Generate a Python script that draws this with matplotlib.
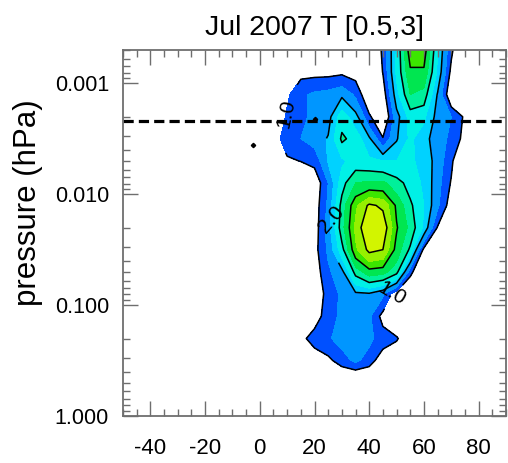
import numpy as np
import matplotlib
matplotlib.use('Agg')
import matplotlib.pyplot as plt
from matplotlib.ticker import MultipleLocator, FixedLocator, LogLocator, NullFormatter

plt.rcParams['font.family'] = ['Liberation Sans', 'DejaVu Sans']
plt.rcParams['axes.unicode_minus'] = False

# latitude grid (deg N) and pressure levels (hPa)
lats = [0, 5, 10, 15, 20, 25, 30, 35, 40, 45, 50, 55, 60, 65, 70, 75, 80]
pres = [0.0005, 0.00079, 0.00126, 0.002, 0.00316, 0.005, 0.0079, 0.0126,
        0.02, 0.0316, 0.05, 0.079, 0.126, 0.2, 0.316, 0.5, 0.79]

# temperature amplitude, one row per pressure level
amp = [
    [0, 0, 0.4, 0.5, 0.5, 0.5, 0.5, 0.4, 0, 1.15, 2.55, 4.3, 4.3, 2.5, 1.1, 0.3, 0],
    [0, 0.1, 0.6, 0.85, 0.85, 0.85, 0.9, 0.8, 0.3, 1.02, 2.6, 3.9, 3.9, 2.4, 0.85, 0.2, 0],
    [0, 0.3, 0.9, 1.4, 1.6, 1.7, 1.9, 1.4, 0.5, 0.7, 2.3, 3.5, 3.3, 1.95, 0.5, 0.3, 0],
    [0, 0.3, 1.1, 1.4, 1.6, 1.8, 2.8, 2.2, 1.1, 0.4, 1.8, 2.7, 2.6, 1.8, 1.5, 0.9, 0.1],
    [0, 0.7, 1.3, 1.5, 1.7, 2.05, 3.1, 2.8, 2.1, 1.05, 1.95, 2.6, 2.2, 1.7, 1.4, 0.8, 0],
    [0, 0.3, 0.9, 1.02, 1.15, 2.05, 2.4, 2.7, 2.6, 2.5, 2.5, 2.6, 2.3, 1.8, 1.1, 0.3, 0],
    [0, 0, 0.1, 0.2, 0.6, 1.5, 2.8, 3.5, 3.6, 3.6, 3.2, 2.8, 2.4, 1.7, 0.95, 0.1, 0],
    [0, 0, 0, 0.1, 0.7, 1.6, 3.2, 4.4, 5.1, 4.9, 3.9, 3.1, 2.5, 1.6, 0.7, 0, 0],
    [0, 0, 0, 0.1, 0.7, 1.75, 3.3, 4.6, 5.6, 5.4, 4.05, 3.35, 2.4, 0.95, 0.2, 0, 0],
    [0, 0, 0, 0.1, 0.8, 1.6, 2.8, 4.4, 5.15, 5.0, 3.8, 2.9, 0.85, 0, 0, 0, 0],
    [0, 0, 0, 0.1, 0.7, 1.4, 1.85, 3.2, 3.8, 3.7, 3.2, 1.2, 0.2, 0, 0, 0, 0],
    [0, 0, 0, 0.1, 0.6, 1.2, 1.6, 1.9, 1.95, 1.6, 0.6, 0.1, 0, 0, 0, 0, 0],
    [0, 0, 0, 0.1, 0.7, 1.3, 1.6, 1.7, 1.6, 0.8, 0.2, 0, 0, 0, 0, 0, 0],
    [0, 0, 0.2, 0.8, 1.3, 1.45, 1.65, 1.7, 1.6, 1.3, 1.1, 0.3, 0, 0, 0, 0, 0],
    [0, 0, 0, 0, 0.5, 0.85, 1.3, 1.6, 1.3, 0.6, 0.1, 0, 0, 0, 0, 0, 0],
    [0, 0, 0, 0, 0, 0, 0, 0, 0, 0, 0, 0, 0, 0, 0, 0, 0],
    [0, 0, 0, 0, 0, 0, 0, 0, 0, 0, 0, 0, 0, 0, 0, 0, 0],
]

fill_levels = [1.0, 1.5, 2.0, 2.5, 3.0, 3.5, 4.0, 4.5, 5.0, 6.0]
fill_colors = ['#0050ff', '#0096ff', '#00d2ff', '#00f0e6', '#00f09a',
               '#00e650', '#3ce600', '#96f000', '#d2f500']
inner_levels = [2.0, 3.0, 4.0, 5.0]

cutoff_p = 0.0022

# isolated single-point spots
spot_lat = [-2.4, 20.0]
spot_p = [0.0036, 0.0021]


def main():
    fig = plt.figure(figsize=(5.08, 4.63), dpi=100)
    ax = fig.add_axes([123 / 508, 1 - 416 / 463, 383 / 508, 366 / 463])

    x = np.array(lats)
    y = np.array(pres)
    z = np.array(amp)

    ax.contourf(x, y, z, levels=fill_levels, colors=fill_colors)

    # outer 1.0 edge and the inner lines, labelled separately
    cs_edge = ax.contour(x, y, z, levels=[1.0], colors='k', linewidths=1.1)
    cs_in = ax.contour(x, y, z, levels=inner_levels, colors='k', linewidths=1.1)
    edge_labels = ax.clabel(cs_edge, fmt='%.1f', fontsize=15, inline=True,
                            manual=[(9.6, 0.0016), (48.0, 0.063)])
    # the west edge runs almost straight up there
    edge_labels[0].set_rotation(78)
    ax.clabel(cs_in, levels=[2.0], fmt='%.1f', fontsize=15, inline=True,
              manual=[(26.0, 0.017)])

    ax.plot(spot_lat, spot_p, 'kD', markersize=2.2)
    ax.axhline(cutoff_p, color='k', lw=2.3, dashes=(3.2, 1.6))

    ax.set_yscale('log')
    ax.set_ylim(1.0, 0.0005)
    ax.set_xlim(-50, 90)

    ax.xaxis.set_major_locator(FixedLocator([-40, -20, 0, 20, 40, 60, 80]))
    ax.xaxis.set_minor_locator(MultipleLocator(5))
    ax.yaxis.set_major_locator(FixedLocator([0.001, 0.01, 0.1, 1.0]))
    ax.yaxis.set_minor_locator(LogLocator(base=10, subs=np.arange(2, 10)))
    ax.yaxis.set_minor_formatter(NullFormatter())
    ax.set_yticklabels(['0.001', '0.010', '0.100', '1.000'])

    gray = '#6e6e6e'
    for s in ax.spines.values():
        s.set_color(gray)
        s.set_linewidth(1.3)
    ax.tick_params(which='both', direction='in', top=True, right=True,
                   color=gray, width=1.0, labelsize=15.5)
    ax.tick_params(which='major', length=11)
    ax.tick_params(which='minor', length=5)
    ax.tick_params(axis='x', pad=16, labelsize=16)
    ax.tick_params(axis='y', pad=10)

    ax.set_ylabel('pressure (hPa)', fontsize=22.5)
    ax.yaxis.set_label_coords(-0.209, 0.582)
    ax.set_title('Jul 2007 T [0.5,3]', fontsize=20.5, pad=11)

    fig.savefig('out.png', dpi=100)


if __name__ == '__main__':
    main()
